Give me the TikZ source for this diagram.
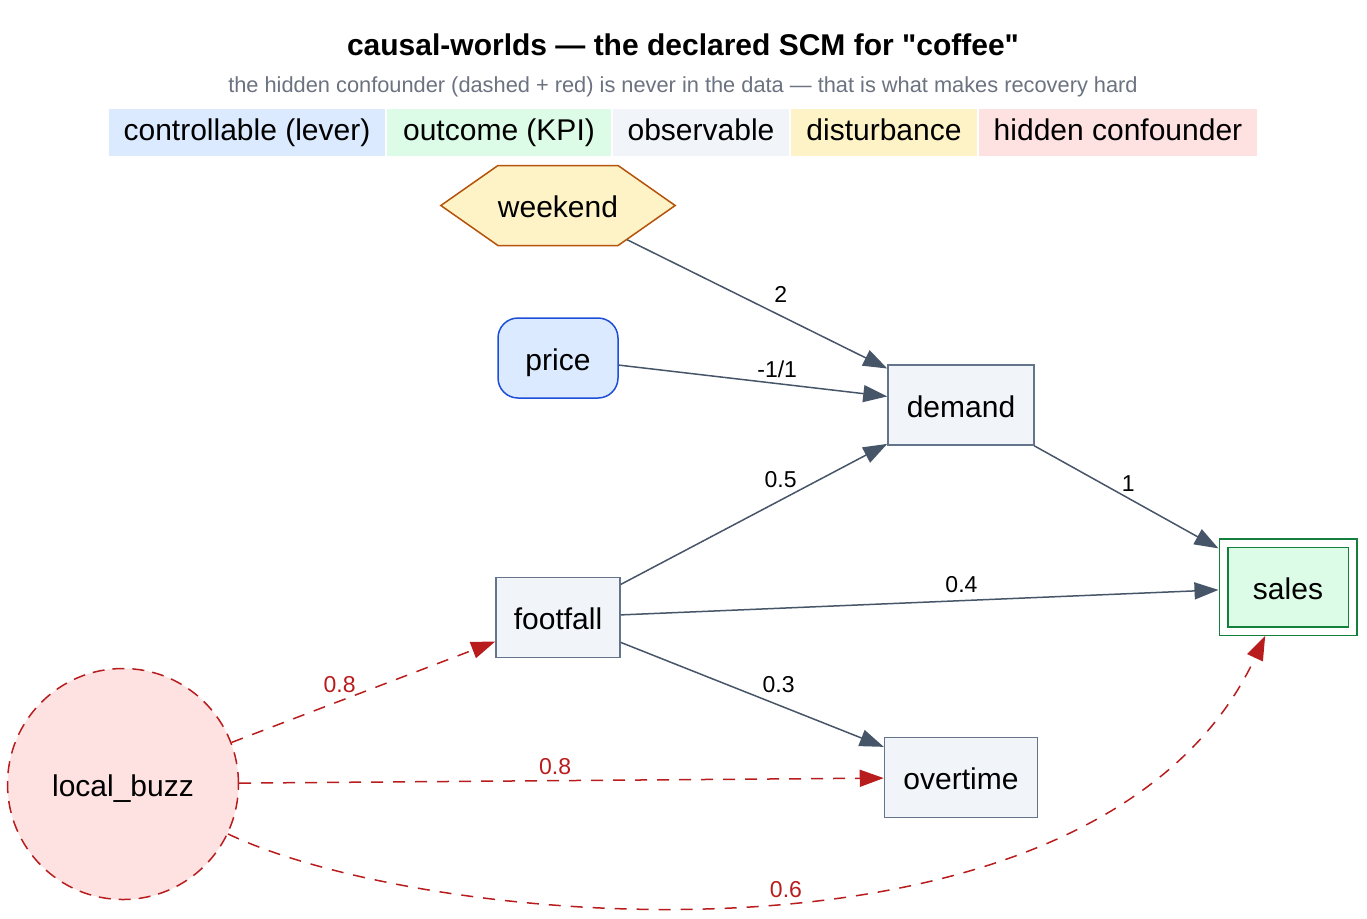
\documentclass[tikz,border=0pt]{standalone}
\usepackage{fontspec}
\setmainfont{Liberation Sans}
\newfontfamily\titlefont{Liberation Sans}
\usepackage{tikz}
\usetikzlibrary{shapes.geometric, shapes.symbols, arrows.meta, positioning}
\definecolor{edgegray}{HTML}{475569}
\definecolor{confred}{HTML}{B91C1C}
\definecolor{leverblue}{HTML}{1D4ED8}
\definecolor{leverfill}{HTML}{DBEAFE}
\definecolor{kpigreen}{HTML}{15803D}
\definecolor{kpifill}{HTML}{DCFCE7}
\definecolor{obsline}{HTML}{64748B}
\definecolor{obsfill}{HTML}{F1F5F9}
\definecolor{distline}{HTML}{B45309}
\definecolor{distfill}{HTML}{FEF3C7}
\definecolor{hidfill}{HTML}{FEE2E2}
\definecolor{subgray}{HTML}{6B7280}

\begin{document}
\begin{tikzpicture}[
    x=0.5pt, y=-0.5pt,
    nodefont/.style={font=\fontsize{15}{18}\selectfont, text height=10.7pt, text depth=3.1pt},
    varfont/.style={font=\fontsize{15}{18}\selectfont, text height=12pt, text depth=0pt},
    base/.style={varfont, line width=0.75pt, minimum height=40pt, inner sep=0pt},
    lever/.style={base, rectangle, rounded corners=10pt, draw=leverblue, fill=leverfill},
    observed/.style={base, rectangle, draw=obsline, fill=obsfill},
    kpi/.style={base, rectangle, draw=kpigreen, fill=kpifill, double=white,
                double distance=3.5pt, outer sep=2.5pt},
    disturb/.style={base, signal, signal to=east and west, signal pointer angle=70,
                    draw=distline, fill=distfill},
    hidden/.style={varfont, circle, minimum size=115.5pt, inner sep=0pt, line width=0.75pt,
                   draw=confred, fill=hidfill, dash pattern=on 6pt off 4pt},
    legend/.style={nodefont, rectangle, minimum height=23.5pt, inner sep=0pt, outer sep=0pt},
    arrow/.style={-{Triangle[length=12pt, width=8.5pt]}, line width=0.75pt, color=edgegray},
    hiddenarrow/.style={arrow, color=confred, dash pattern=on 6pt off 5pt},
    lbl/.style={font=\fontsize{11.5}{13}\selectfont, inner sep=1pt, text=black},
    hlbl/.style={lbl, text=confred},
]
\useasboundingbox (0,0) rectangle (1367,918);

% title and legend
\node[font=\titlefont\fontsize{15}{18}\selectfont\bfseries] (title) at (683,45) {causal-worlds — the declared SCM for "coffee"};
\node[font=\fontsize{10.9}{13}\selectfont, text=subgray] (subtitle) at (683,87) {the hidden confounder (dashed + red) is never in the data — that is what makes recovery hard};

\node[legend, fill=leverfill, minimum width=138pt] (keylever) at (247,132.5) {controllable (lever)};
\node[legend, fill=kpifill, minimum width=112pt, right=1pt of keylever] (keykpi) {outcome (KPI)};
\node[legend, fill=obsfill, minimum width=88pt, right=1pt of keykpi] (keyobs) {observable};
\node[legend, fill=distfill, minimum width=93pt, right=1pt of keyobs] (keydist) {disturbance};
\node[legend, fill=hidfill, minimum width=139pt, right=1pt of keydist] (keyhidden) {hidden confounder};

% variables
\node[lever, minimum width=60pt] (price) at (558,358) {price};
\node[disturb, above=35.5pt of price] (weekend) {weekend};
\node[observed, minimum width=62pt, below=89pt of price] (footfall) {footfall};
\node[observed, minimum width=73pt] (demand) at (961,405) {demand};
\node[observed, minimum width=76.5pt, below=145.5pt of demand] (overtime) {overtime};
\node[kpi, minimum width=64.5pt, minimum height=44pt] (sales) at (1288,587) {sales};
\node[hidden] (buzz) at (123,784) {local\_buzz};

% causal edges
\draw[arrow] (weekend) -- node[lbl, pos=0.59, above=5.5pt] {2} (demand);
\draw[arrow] (price) -- node[lbl, pos=0.59, above=1.5pt] {-1/1} (demand);
\draw[arrow] (demand) -- node[lbl, pos=0.51, above=2pt] {1} (sales);
\draw[arrow] (footfall) -- node[lbl, pos=0.6, above=5pt] {0.5} (demand);
\draw[arrow] (footfall) -- node[lbl, pos=0.57, above=2.5pt] {0.4} (sales);
\draw[arrow] (footfall) -- node[lbl, pos=0.6, above=5pt] {0.3} (overtime);

% confounder edges
\draw[hiddenarrow] (buzz) -- node[hlbl, pos=0.41, above=3pt] {0.8} (footfall);
\draw[hiddenarrow] (buzz) -- node[hlbl, pos=0.49, above=1.5pt] {0.8} (overtime);
\draw[hiddenarrow] (buzz) .. controls (430,930) and (1100,990) .. node[hlbl, pos=0.52, above=0.5pt] {0.6} (sales);

\end{tikzpicture}
\end{document}
